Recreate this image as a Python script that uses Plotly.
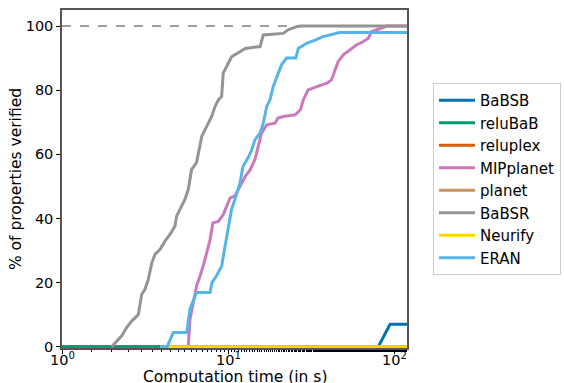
import math
import plotly.graph_objects as go

# Cumulative % of properties verified against computation time (s)
babsb_t = [1.0, 80.4, 94.6, 120.0]
babsb_v = [0, 0, 7, 7]

relubab_t = [1.0, 120.0]
relubab_v = [0, 0]

reluplex_t = [3.9, 120.0]
reluplex_v = [0, 0]

mipplanet_t = [5.4, 5.76, 5.9, 6.2, 6.46, 6.77, 7.08, 7.44, 7.8, 8.1, 8.75, 9.36, 9.8,
               10.3, 11.0, 11.8, 12.7, 13.6, 14.5, 15.2, 15.9, 17.1, 19.2, 20.0, 21.5,
               25.4, 27.3, 28.4, 30.4, 34.3, 39.4, 42.0, 44.0, 46.0, 49.5, 54.2, 59.3,
               65.0, 70.0, 73.2, 78.6, 90.2, 120.0]
mipplanet_v = [0, 0, 8.5, 14.8, 18.9, 22.0, 25.1, 29.3, 33.4, 38.6, 39.1, 41.2, 43.8,
               46.4, 47.0, 50.0, 53.1, 55.2, 58.3, 62.5, 66.6, 69.2, 69.7, 71.3, 71.8,
               72.3, 73.9, 77.0, 80.1, 81.1, 82.2, 83.2, 86.3, 88.9, 91.0, 92.5, 94.1,
               95.1, 96.2, 98.2, 98.8, 100, 100]

planet_t = [3.9, 120.0]
planet_v = [0, 0]

babsr_t = [1.99, 2.1, 2.29, 2.45, 2.63, 2.88, 3.02, 3.16, 3.31, 3.47, 3.63, 3.89, 4.17,
           4.47, 4.79, 4.9, 5.13, 5.5, 5.76, 6.03, 6.46, 6.6, 6.95, 7.44, 7.97, 8.35,
           8.75, 9.15, 9.36, 9.8, 10.5, 11.8, 12.7, 15.6, 16.3, 21.5, 23.0, 25.9, 27.3,
           120.0]
babsr_v = [0, 1.4, 3.4, 6.0, 8.0, 10.0, 16.3, 17.9, 21.0, 26.0, 28.8, 30.3, 32.9,
           35.0, 37.6, 40.7, 42.8, 45.9, 49.0, 55.2, 57.4, 59.9, 65.6, 68.7, 71.8, 74.9,
           77.0, 78.0, 85.4, 87.3, 90.4, 92.0, 93.0, 93.6, 97.2, 97.7, 98.8, 99.8, 100,
           100]

neurify_t = [3.9, 120.0]
neurify_v = [0, 0]

eran_t = [3.89, 4.3, 4.68, 5.64, 5.9, 6.46, 7.8, 8.0, 8.5, 9.15, 9.6, 10.05, 10.5, 11.0,
          11.8, 12.3, 13.2, 13.9, 14.5, 15.6, 16.3, 17.1, 17.9, 18.7, 20.0, 21.0, 22.5,
          25.6, 26.5, 29.7, 33.4, 37.3, 47.0, 120.0]
eran_v = [0, 0, 4.4, 4.4, 11.7, 16.9, 16.9, 20.0, 22.0, 25.1, 31.4, 37.6, 42.8, 45.9,
          51.0, 56.2, 58.9, 61.4, 64.5, 66.6, 69.7, 74.9, 77.0, 81.1, 85.3, 87.9, 90.0,
          90.0, 93.0, 94.6, 95.6, 96.7, 98.0, 98.0]

series = [
    ("BaBSB", babsb_t, babsb_v, "#0173b2"),
    ("reluBaB", relubab_t, relubab_v, "#029e73"),
    ("reluplex", reluplex_t, reluplex_v, "#d55e00"),
    ("MIPplanet", mipplanet_t, mipplanet_v, "#cc78bc"),
    ("planet", planet_t, planet_v, "#ca9161"),
    ("BaBSR", babsr_t, babsr_v, "#949494"),
    ("Neurify", neurify_t, neurify_v, "#ffd700"),
    ("ERAN", eran_t, eran_v, "#56b4e9"),
]

x_tick_vals = [1, 10, 100]
x_tick_text = ["10<sup>0</sup>", "10<sup>1</sup>", "10<sup>2</sup>"]
y_tick_vals = [0, 20, 40, 60, 80, 100]
x_title = "Computation time (in s)"
y_title = "% of properties verified"

FONT = "DejaVu Sans"
AXIS_COLOR = "#555555"

fig = go.Figure()

# Reference line marking 100 %
fig.add_trace(go.Scatter(
    x=[1.0, 120.0], y=[100, 100], mode="lines",
    line=dict(color="#808080", width=1.5, dash="dash"),
    showlegend=False, hoverinfo="skip",
))

for name, t, v, color in series:
    fig.add_trace(go.Scatter(
        x=t, y=v, mode="lines", name=name, legendgroup=name,
        line=dict(color=color, width=3),
    ))

# Log-axis tick labels, placed close under the axis line
# (annotation x on a log axis is given in log10 units)
for val, txt in zip(x_tick_vals, x_tick_text):
    fig.add_annotation(
        x=math.log10(val), xref="x", y=0, yref="paper", yanchor="middle", yshift=-11,
        text=txt, showarrow=False, font=dict(family=FONT, size=14.5),
    )

fig.add_annotation(
    x=0.5, xref="paper", y=0, yref="paper", yanchor="middle", yshift=-29,
    text=x_title, showarrow=False, font=dict(family=FONT, size=15.5),
)

fig.update_layout(
    width=564, height=383,
    margin=dict(l=62, r=157, t=10, b=35),
    paper_bgcolor="white", plot_bgcolor="white",
    font=dict(family=FONT, size=14, color="#000000"),
    legend=dict(
        xref="container", x=433 / 564, xanchor="left",
        yref="paper", y=0.5, yanchor="middle",
        bordercolor="#cccccc", borderwidth=1, bgcolor="white",
        font=dict(family=FONT, size=15),
        tracegroupgap=0, itemwidth=36,
    ),
    xaxis=dict(
        type="log", range=[0, 2.078], automargin=False,
        tickvals=x_tick_vals, showticklabels=False,
        ticks="outside", ticklen=4, tickcolor="#000000",
        minor=dict(ticks="outside", ticklen=2, tickcolor="#000000", showgrid=False),
        showgrid=False, zeroline=False,
        showline=True, linecolor=AXIS_COLOR, linewidth=1.5, mirror=True,
    ),
    yaxis=dict(
        range=[-0.4, 105], automargin=False,
        tickvals=y_tick_vals,
        ticks="outside", ticklen=4, tickcolor="#000000",
        showgrid=False, zeroline=False,
        showline=True, linecolor=AXIS_COLOR, linewidth=1.5, mirror=True,
        title=dict(text=y_title, standoff=0,
                   font=dict(family=FONT, size=15.5)),
        tickfont=dict(family=FONT, size=14.5),
    ),
)

fig.write_html("out.html")
